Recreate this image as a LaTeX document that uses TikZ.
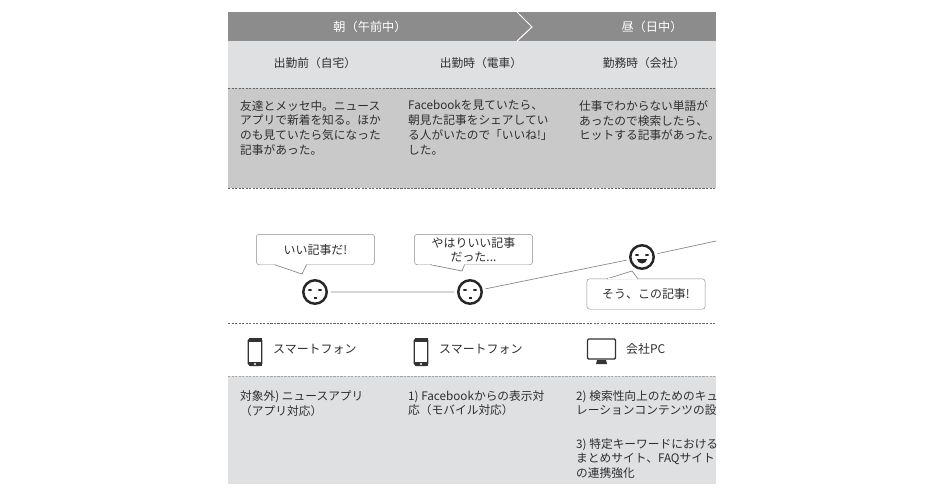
\documentclass[tikz,border=0pt]{standalone}
\usepackage{fontspec}
\setmainfont{Noto Sans CJK JP}
\usepackage{xcolor}
\usetikzlibrary{positioning}
\definecolor{headgray}{HTML}{8C8C8C}
\definecolor{lightgray}{HTML}{DFE0E2}
\definecolor{midgray}{HTML}{C9C9C9}
\definecolor{inkgray}{HTML}{2E2E2E}
\definecolor{linegray}{HTML}{8A8A8A}
\tikzset{
  band/.style={draw=none,fill=#1},
  head/.style={text=white,font=\fontsize{10.4}{12}\selectfont},
  scene/.style={text=inkgray,font=\fontsize{10}{12}\selectfont},
  body/.style={text=inkgray,anchor=north west,align=left,inner sep=0pt,font=\fontsize{10}{12.7}\selectfont},
  device/.style={text=inkgray,anchor=west,inner sep=0pt,font=\fontsize{10.2}{12}\selectfont},
  bubble/.style={draw=linegray,fill=white,rounded corners=2.5pt,minimum width=101pt,minimum height=26pt,inner sep=0pt,align=center,text=inkgray,font=\fontsize{10.2}{12}\selectfont},
  tail/.style={draw=linegray,fill=white,line width=0.6pt},
  face/.style={circle,draw=black!85,line width=2.1pt,fill=white,minimum size=20pt,inner sep=0pt,outer sep=3.5pt},
  sep/.style={black!60,dashed,line width=0.5pt,dash pattern=on 2pt off 1pt},
  phone/.style={draw=black!80,line width=0.9pt,fill=white,rounded corners=1.5pt,minimum width=11.5pt,minimum height=23pt,inner sep=0pt},
  screen/.style={draw=black!80,line width=1.1pt,fill=white,rounded corners=1pt,minimum width=24pt,minimum height=17pt,inner sep=0pt}
}
\newcommand{\facebits}[1]{
  \fill[black!85] ([shift={(-5,-2)}]#1.center) ellipse (2 and 1);
  \fill[black!85] ([shift={(5,-2)}]#1.center) ellipse (2 and 1);
}
\newcommand{\phonebits}[1]{
  \fill[black!80] ([shift={(-6.5,-14)}]#1.center) rectangle ([shift={(6.5,-10)}]#1.center);
  \fill[black!80] ([shift={(-6.5,10)}]#1.center) rectangle ([shift={(6.5,14)}]#1.center);
  \fill[white] ([shift={(0,12)}]#1.center) circle (1.2);
}
\begin{document}
\begin{tikzpicture}[x=0.03cm,y=-0.03cm]
	\useasboundingbox (0,0) rectangle (940,492);

	% The bands
	\fill[band=headgray] (228,12) rectangle (716,41);
	\fill[band=lightgray] (228,41) rectangle (716,88);
	\fill[band=midgray] (228,88) rectangle (716,188);
	\fill[band=lightgray] (228,376) rectangle (716,484);
	\draw[white,line width=0.9pt] (517,12) -- (532,27) -- (517,41);
	\draw[sep] (228,88) -- (716,88);
	\draw[sep] (228,188) -- (716,188);
	\draw[sep] (228,323) -- (716,323);
	\draw[sep,black!35] (228,376) -- (716,376);

	% Header texts
	\node [head] at (370,27) (morning) {朝（午前中）};
	\node [head] at (652,27) (noon) {昼（日中）};
	\node [scene] at (315,63) (home) {出勤前（自宅）};
	\node [scene] at (481,63) (train) {出勤時（電車）};
	\node [scene] at (644,63) (office) {勤務時（会社）};

	% The stories
	\node [body] at (240,100) (story1) {友達とメッセ中。ニュース\\アプリで新着を知る。ほか\\のも見ていたら気になった\\記事があった。};
	\node [body] at (408,100) (story2) {Facebookを見ていたら、\\朝見た記事をシェアしてい\\る人がいたので「いいね!」\\した。};
	\node [body] at (579,100) (story3) {仕事でわからない単語が\\あったので検索したら、\\ヒットする記事があった。};

	% The faces
	\node [face] at (315,292) (face1) {};
	\node [face] at (470,292) (face2) {};
	\node [face] at (642,257) (face3) {};
	\coordinate (faceend) at (716,241);
	\facebits{face1}
	\facebits{face2}
	\facebits{face3}
	\draw[black!85,line width=0.9pt] ([shift={(-1.5,6)}]face1.center) -- ([shift={(1.5,6)}]face1.center);
	\draw[black!85,line width=0.9pt] ([shift={(-1.5,6)}]face2.center) -- ([shift={(1.5,6)}]face2.center);
	\fill[black!85] ([shift={(-5,2)}]face3.center) arc (180:0:5 and 4.5) -- cycle;

	% Face edges
	\path[draw=linegray,line width=0.6pt]
	(face1) -- (face2)
	(face2) -- (face3)
	(face3) -- (faceend)
	;

	% The bubbles
	\node [bubble] at (315.5,249.5) (say1) {いい記事だ!};
	\node [bubble] at (473.5,249.5) (say2) {やはりいい記事\\だった...};
	\node [bubble] at (646,294) (say3) {そう、この記事!};
	\filldraw[tail] ([shift={(-41,15.2)}]say1.center) -- (302,274) -- ([shift={(-9,15.2)}]say1.center);
	\filldraw[tail] ([shift={(-43,15.2)}]say2.center) -- (462,271) -- ([shift={(-9,15.2)}]say2.center);
	\filldraw[tail] ([shift={(-39,-15.2)}]say3.center) -- (632,271) -- ([shift={(-8,-15.2)}]say3.center);
	\draw[white,line width=1.1pt] ([shift={(-40,15.2)}]say1.center) -- ([shift={(-10,15.2)}]say1.center);
	\draw[white,line width=1.1pt] ([shift={(-42,15.2)}]say2.center) -- ([shift={(-10,15.2)}]say2.center);
	\draw[white,line width=1.1pt] ([shift={(-38,-15.2)}]say3.center) -- ([shift={(-9,-15.2)}]say3.center);

	% The devices
	\node [phone] at (255,352) (phone1) {};
	\node [phone] at (421,352) (phone2) {};
	\phonebits{phone1}
	\phonebits{phone2}
	\node [screen] at (601.5,349) (screen1) {};
	\fill[black!80] (597,360) -- (606,360) -- (607,364) -- (596,364) -- cycle;
	\node [device] at (273,349) (device1) {スマートフォン};
	\node [device] at (439,349) (device2) {スマートフォン};
	\node [device] at (626,349) (device3) {会社PC};

	% The actions
	\node [body] at (240,390) (action1) {対象外) ニュースアプリ\\（アプリ対応）};
	\node [body] at (408,390) (action2) {1) Facebookからの表示対\\応（モバイル対応）};
	\begin{scope}
	\clip (228,376) rectangle (716,484);
	\node [body] at (576,390) (action3) {2) 検索性向上のためのキュ\\レーションコンテンツの設計};
	\node [body] at (576,438) (action4) {3) 特定キーワードにおける\\まとめサイト、FAQサイトと\\の連携強化};
	\end{scope}
\end{tikzpicture}
\end{document}
